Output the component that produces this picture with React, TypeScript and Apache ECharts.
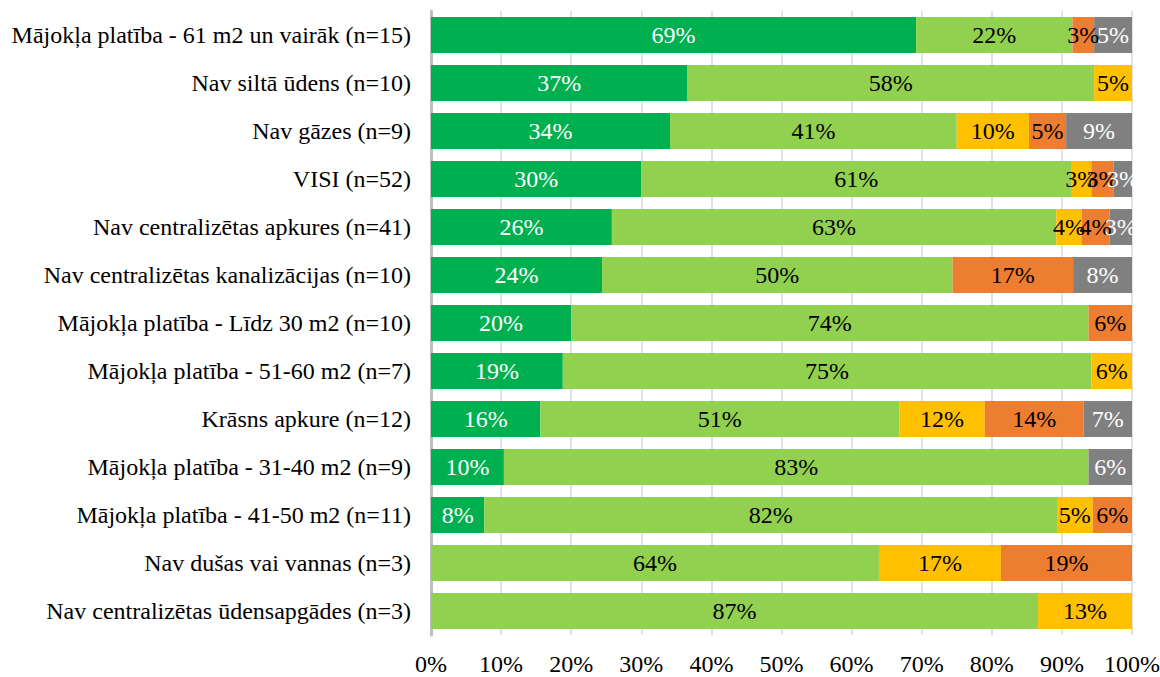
import React, { useEffect, useRef } from "react";
import * as echarts from "echarts";

const categories = [
  "Mājokļa platība - 61 m2 un vairāk (n=15)",
  "Nav siltā ūdens (n=10)",
  "Nav gāzes (n=9)",
  "VISI (n=52)",
  "Nav centralizētas apkures (n=41)",
  "Nav centralizētas kanalizācijas (n=10)",
  "Mājokļa platība - Līdz 30 m2 (n=10)",
  "Mājokļa platība - 51-60 m2 (n=7)",
  "Krāsns apkure (n=12)",
  "Mājokļa platība - 31-40 m2 (n=9)",
  "Mājokļa platība - 41-50 m2 (n=11)",
  "Nav dušas vai vannas (n=3)",
  "Nav centralizētas ūdensapgādes (n=3)",
];

const darkGreen = [69.2, 36.6, 34.1, 30.0, 25.8, 24.4, 20.0, 18.8, 15.6, 10.4, 7.6, 0, 0];
const lightGreen = [22.3, 58.0, 40.9, 61.3, 63.4, 50.0, 73.8, 75.4, 51.2, 83.4, 81.7, 63.9, 86.6];
const yellow = [0, 5.4, 10.3, 2.9, 3.6, 0, 0, 5.8, 12.2, 0, 5.1, 17.4, 13.4];
const orange = [3.1, 0, 5.3, 3.2, 4.0, 17.2, 6.2, 0, 14.1, 0, 5.6, 18.7, 0];
const gray = [5.4, 0, 9.4, 2.6, 3.2, 8.4, 0, 0, 6.9, 6.2, 0, 0, 0];

const xTicks = [0, 10, 20, 30, 40, 50, 60, 70, 80, 90, 100];

const FONT = "Liberation Serif";
const FS = 24;

export default function App() {
  const ref = useRef<HTMLDivElement>(null);
  useEffect(() => {
    document.body.style.margin = "0";
    const chart = echarts.init(ref.current!, null, { renderer: "svg" });
    const mk = (name: string, data: number[], color: string, labelColor: string) => ({
      name,
      type: "bar",
      stack: "total",
      data,
      barCategoryGap: "25%",
      itemStyle: { color },
      label: {
        show: true,
        position: "inside",
        color: labelColor,
        fontFamily: FONT,
        fontSize: FS,
        formatter: (p: any) => (p.value > 0 ? Math.round(p.value) + "%" : ""),
      },
    });
    chart.setOption({
      animation: false,
      backgroundColor: "#ffffff",
      textStyle: { fontFamily: FONT },
      grid: {
        left: 431,
        right: 28,
        top: 11,
        bottom: 42,
        containLabel: false,
        outerBoundsMode: "none",
      },
      xAxis: {
        type: "value",
        min: xTicks[0],
        max: xTicks[xTicks.length - 1],
        interval: 10,
        axisLabel: {
          formatter: (v: number) => v + "%",
          fontFamily: FONT,
          fontSize: FS,
          color: "#000",
          margin: 17,
        },
        axisLine: { show: false },
        axisTick: { show: false },
        splitLine: { show: true, lineStyle: { color: "#d9d9d9", width: 1.5 } },
      },
      yAxis: {
        type: "category",
        data: categories,
        inverse: true,
        axisLabel: { fontFamily: FONT, fontSize: FS, color: "#000", margin: 20 },
        axisLine: { show: true, lineStyle: { color: "#bfbfbf", width: 3 } },
        axisTick: { show: false },
      },
      series: [
        mk("dg", darkGreen, "#00B050", "#ffffff"),
        mk("lg", lightGreen, "#92D050", "#000000"),
        mk("y", yellow, "#FFC000", "#000000"),
        mk("o", orange, "#ED7D31", "#000000"),
        mk("g", gray, "#808080", "#ffffff"),
      ],
    });
    return () => chart.dispose();
  }, []);
  return <div ref={ref} style={{ width: 1160, height: 677 }} />;
}
